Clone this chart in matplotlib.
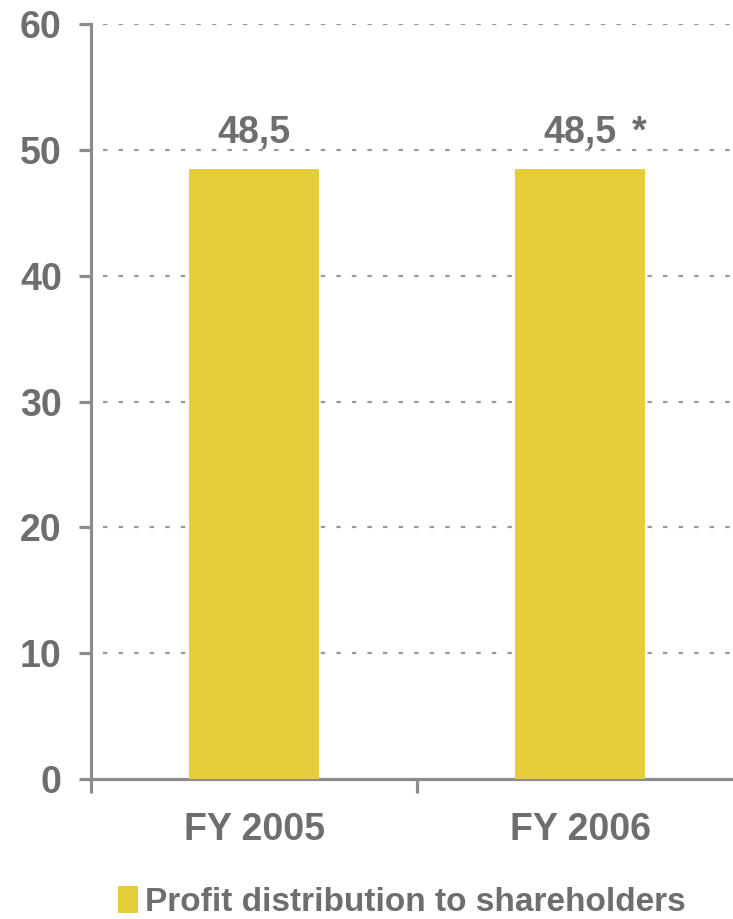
import matplotlib
matplotlib.use("Agg")
import matplotlib.pyplot as plt
from matplotlib.patches import Patch

# profit distribution, EUR m
years = ["FY 2005", "FY 2006"]
payout = [48.5, 48.5]
footnote = ["", "*"]
y_ticks = [0, 10, 20, 30, 40, 50, 60]

BAR = "#e6ce3b"
TEXT = "#6e6e6e"
AXIS = "#8c8c8c"
GRID = "#9a9a9a"

plt.rcParams["font.family"] = ["Liberation Sans", "DejaVu Sans"]
plt.rcParams["font.weight"] = "bold"

fig = plt.figure(figsize=(7.33, 9.19), dpi=100)
W, H = 733, 919
left, right = 91, 743
top, bottom = 24, 779
ax = fig.add_axes([left / W, 1 - bottom / H, (right - left) / W, (bottom - top) / H])

x = list(range(len(years)))
bars = ax.bar(x, payout, width=0.4, color=BAR, zorder=3,
              label="Profit distribution to shareholders")

ax.set_xlim(-0.5, 1.5)
ax.set_ylim(0, 60)

# dotted horizontal grid
for v in y_ticks[1:]:
    ax.axhline(v, color=GRID, lw=1.6, dashes=(2, 5), zorder=1,
               xmin=0.018)

for s in ["top", "right"]:
    ax.spines[s].set_visible(False)
for s in ["left", "bottom"]:
    ax.spines[s].set_color(AXIS)
    ax.spines[s].set_linewidth(2.3)

ax.set_yticks(y_ticks)
ax.tick_params(axis="y", length=9, width=2.3, color=AXIS, pad=12,
               labelsize=27, labelcolor=TEXT)
ax.set_xticks(x)
ax.set_xticklabels(years)
ax.tick_params(axis="x", which="major", length=0, pad=24,
               labelsize=27, labelcolor=TEXT)
ax.set_xticks([-0.5, 0.5, 1.5], minor=True)
ax.tick_params(axis="x", which="minor", length=10, width=2.3, color=AXIS)

# value labels, comma as decimal separator
for xi, val, mark in zip(x, payout, footnote):
    ax.annotate(f"{val:.1f}".replace(".", ","), (xi, val),
                xytext=(0, 13), textcoords="offset points",
                ha="center", va="bottom", fontsize=27, color=TEXT,
                fontweight="bold")
    if mark:
        ax.annotate(mark, (xi, val), xytext=(37, 13),
                    textcoords="offset points", ha="left", va="bottom",
                    fontsize=27, color=TEXT, fontweight="bold")

handle = Patch(facecolor=BAR, edgecolor="none")
fig.legend([handle], ["Profit distribution to shareholders"],
           loc="lower left", bbox_to_anchor=(118 / W, 1 / H),
           frameon=False, fontsize=24, handlelength=0.6, handleheight=0.85,
           handletextpad=0.2, borderpad=0, borderaxespad=0,
           labelcolor=TEXT)

fig.savefig("out.png", dpi=100)
